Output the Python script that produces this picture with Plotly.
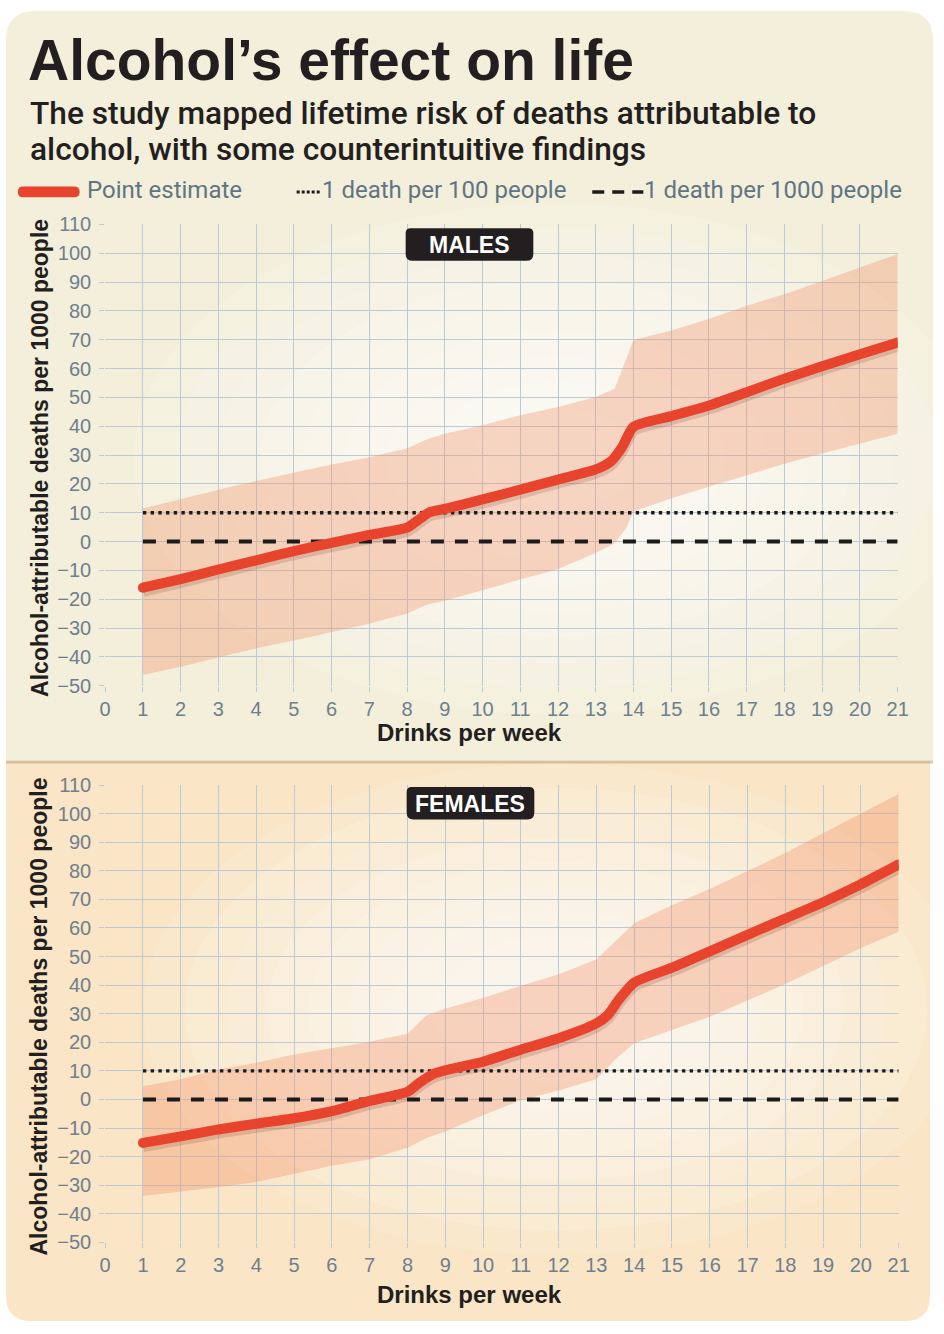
import plotly.graph_objects as go

# ---------------- data ----------------
x_ticks = list(range(0, 22))
y_ticks = list(range(-50, 111, 10))

male_x = [1, 2, 3, 4, 5, 6, 7, 8, 8.3, 8.6, 9, 10, 11, 12, 13, 13.4, 13.7, 14,
          15, 16, 17, 18, 19, 20, 21]
male_est = [-16, -13, -9.7, -6.5, -3.3, -0.5, 2.3, 4.8, 7.5, 10.2, 11.3, 14.6, 18,
            21.5, 25, 27.8, 32.8, 39.8, 43.5, 47.2, 51.8, 56.5, 60.8, 65, 69]
male_band_x = [1, 2, 3, 4, 5, 6, 7, 8, 8.5, 9, 10, 11, 12, 13, 13.5, 13.8, 14,
               15, 16, 17, 18, 19, 20, 21]
male_upper = [11.5, 14.8, 18, 21, 23.8, 26.7, 29.2, 32.4, 35.3, 37.4, 40.3, 43.8,
              46.7, 50.1, 53, 63, 69.9, 73.2, 77.2, 81.8, 85.8, 90.4, 95, 99.7]
male_lower = [-46.3, -43.4, -40.2, -37, -34.3, -31.4, -28.5, -25, -22, -20.5, -16.8,
              -13.2, -9.5, -4, -0.6, 4.5, 10.4, 15, 19, 23, 27, 30.5, 34, 37.4]

female_x = [1, 2, 3, 4, 5, 6, 7, 8, 8.3, 8.7, 9, 10, 11, 12, 13, 13.3, 13.6, 14,
            15, 16, 17, 18, 19, 20, 21]
female_est = [-15.2, -12.9, -10.5, -8.5, -6.6, -4.1, -0.5, 2.7, 5.7, 9, 10.2, 13.2,
              17.4, 21.4, 26.6, 29.5, 35, 40.9, 46.1, 51.8, 57.6, 63.3, 69, 75.3, 82.2]
female_band_x = [1, 2, 3, 4, 5, 6, 7, 8, 8.5, 9, 10, 11, 12, 13, 13.5, 14, 15, 16,
                 17, 18, 19, 20, 21]
female_upper = [4.6, 7.1, 10.5, 12.8, 15.7, 18, 20.2, 23, 29.4, 31.7, 35.5, 39.8,
                43.8, 49, 55.3, 61.6, 67.9, 73.6, 79.9, 86.2, 93.1, 100, 106.9]
female_lower = [-33.8, -32.3, -30.6, -28.9, -26, -23.2, -20.9, -16.9, -13.5, -11.2,
                -5.5, -0.3, 3.1, 7.1, 14, 19.7, 24.3, 28.9, 34.6, 40.4, 46.7, 53, 58.7]

threshold_x = [1, 21]
per_100_level = 10     # 1 death per 100 people
per_1000_level = 0     # drawn on the zero line in the reference

title_text = "Alcohol’s effect on life"
subtitle_lines = ["The study mapped lifetime risk of deaths attributable to",
                  "alcohol, with some counterintuitive findings"]
legend_labels = ["Point estimate", "1 death per 100 people", "1 death per 1000 people"]
panel_labels = ["MALES", "FEMALES"]
y_title = "Alcohol-attributable deaths per 1000 people"
x_title = "Drinks per week"

# ---------------- styling / layout helpers ----------------
W, H = 944, 1334
RED = "#e8432d"
BAND = "rgba(240,140,100,0.34)"
GRID = "#bccad5"
TICK = "#6d808e"
DARK = "#231f20"
LEG = "#5f7583"
SANS = "Liberation Sans, Arial, sans-serif"
ROBOTO = "Roboto, Open Sans, sans-serif"


def px(x):
    return x / W


def py(y):
    return 1 - y / H


def rounded_path(x0, y0, x1, y1, r_tl, r_tr, r_br, r_bl):
    def P(x, y):
        return f"{px(x):.5f},{py(y):.5f}"
    d = f"M{P(x0 + r_tl, y0)} L{P(x1 - r_tr, y0)} "
    d += f"Q{P(x1, y0)} {P(x1, y0 + r_tr)} " if r_tr else ""
    d += f"L{P(x1, y1 - r_br)} "
    d += f"Q{P(x1, y1)} {P(x1 - r_br, y1)} " if r_br else ""
    d += f"L{P(x0 + r_bl, y1)} "
    d += f"Q{P(x0, y1)} {P(x0, y1 - r_bl)} " if r_bl else ""
    d += f"L{P(x0, y0 + r_tl)} "
    d += f"Q{P(x0, y0)} {P(x0 + r_tl, y0)} " if r_tl else ""
    return d + "Z"


fig = go.Figure()


def add_panel(xs, est, bx, up, lo, xa, ya):
    fig.add_trace(go.Scatter(x=bx, y=lo, mode="lines", line=dict(width=0),
                             hoverinfo="skip", xaxis=xa, yaxis=ya))
    fig.add_trace(go.Scatter(x=bx, y=up, mode="lines", line=dict(width=0),
                             fill="tonexty", fillcolor=BAND, hoverinfo="skip",
                             xaxis=xa, yaxis=ya))
    fig.add_trace(go.Scatter(x=threshold_x, y=[per_100_level] * 2, mode="lines",
                             line=dict(color="#1b1b1b", width=3.4, dash="3.4px,4.3px"),
                             xaxis=xa, yaxis=ya))
    fig.add_trace(go.Scatter(x=threshold_x, y=[per_1000_level] * 2, mode="lines",
                             line=dict(color="#1b1b1b", width=4, dash="13px,11px"),
                             xaxis=xa, yaxis=ya))
    shadow = [v - 1.1 for v in est]
    fig.add_trace(go.Scatter(x=xs, y=shadow, mode="lines",
                             line=dict(color="rgba(90,40,20,0.16)", width=12,
                                       shape="spline", smoothing=0.6),
                             xaxis=xa, yaxis=ya))
    fig.add_trace(go.Scatter(x=xs, y=est, mode="lines",
                             line=dict(color=RED, width=10, shape="spline", smoothing=0.6),
                             xaxis=xa, yaxis=ya))
    fig.add_trace(go.Scatter(x=[xs[0], xs[-1]], y=[est[0], est[-1]], mode="markers",
                             marker=dict(color=RED, size=10, line=dict(width=0)),
                             xaxis=xa, yaxis=ya))


add_panel(male_x, male_est, male_band_x, male_upper, male_lower, "x", "y")
add_panel(female_x, female_est, female_band_x, female_upper, female_lower, "x2", "y2")

axis_common_x = dict(range=[0, 21], tickvals=x_ticks, showgrid=True, gridcolor=GRID,
                     gridwidth=1.2, zeroline=False, showline=False, ticks="outside",
                     ticklen=5, tickcolor=GRID, tickwidth=1.2,
                     tickfont=dict(family=SANS, size=20, color=TICK),
                     fixedrange=True)
axis_common_y = dict(range=[-50, 110], tickvals=y_ticks, showgrid=True, gridcolor=GRID,
                     gridwidth=1.2, zeroline=False, showline=False, ticks="outside",
                     ticklen=5, tickcolor=GRID, tickwidth=1.2,
                     ticklabelstandoff=4,
                     tickfont=dict(family=SANS, size=20, color=TICK),
                     fixedrange=True)

shapes = []
# panel backgrounds
shapes.append(dict(type="path", xref="paper", yref="paper", layer="below",
                   path=rounded_path(0, 0, 944, 762, 30, 30, 0, 0),
                   fillcolor="#f3efdb", line=dict(width=0)))
shapes.append(dict(type="path", xref="paper", yref="paper", layer="below",
                   path=rounded_path(0, 763, 941, 1332, 0, 0, 26, 26),
                   fillcolor="#fae5c6", line=dict(width=0)))
shapes.append(dict(type="line", xref="paper", yref="paper", layer="below",
                   x0=0, x1=px(944), y0=py(763.5), y1=py(763.5),
                   line=dict(color="rgba(170,140,95,0.45)", width=3)))


def glow(cx, cy, rx, ry, n=10, op=0.13):
    for i in range(n):
        k = 1 - i / n
        shapes.append(dict(type="circle", xref="paper", yref="paper", layer="below",
                           x0=px(cx - rx * k), x1=px(cx + rx * k),
                           y0=py(cy + ry * k), y1=py(cy - ry * k),
                           fillcolor=f"rgba(255,255,255,{op})", line=dict(width=0)))


glow(560, 455, 430, 260)
glow(560, 1015, 420, 250)

# panel label boxes
shapes.append(dict(type="path", xref="paper", yref="paper", layer="above",
                   path=rounded_path(407, 221, 537, 254, 5, 5, 7, 7),
                   fillcolor="#231f20", line=dict(width=0)))
shapes.append(dict(type="path", xref="paper", yref="paper", layer="above",
                   path=rounded_path(408, 789, 538, 822, 5, 5, 7, 7),
                   fillcolor="#231f20", line=dict(width=0)))

# legend samples
shapes.append(dict(type="path", xref="paper", yref="paper", layer="above",
                   path=rounded_path(12, 178.5, 75, 189.5, 5.5, 5.5, 5.5, 5.5),
                   fillcolor=RED, line=dict(width=0)))
shapes.append(dict(type="line", xref="paper", yref="paper", x0=px(296), x1=px(321),
                   y0=py(184), y1=py(184),
                   line=dict(color="#1b1b1b", width=3, dash="3px,2px")))
shapes.append(dict(type="line", xref="paper", yref="paper", x0=px(597), x1=px(649),
                   y0=py(184), y1=py(184),
                   line=dict(color="#1b1b1b", width=3.6, dash="12px,8px")))

annotations = []


def ann(text, x, y, size, color, family, weight="normal", xanchor="left",
        yanchor="middle", angle=0):
    annotations.append(dict(text=text, x=px(x), y=py(y), xref="paper", yref="paper",
                            xanchor=xanchor, yanchor=yanchor, showarrow=False,
                            textangle=angle,
                            font=dict(size=size, color=color, family=family,
                                      weight=weight)))


ann(title_text, 20, 50, 57, DARK, SANS, "bold")
ann(subtitle_lines[0], 22, 104, 31.7, DARK, ROBOTO, 500)
ann(subtitle_lines[1], 22, 141, 31.7, DARK, ROBOTO, 500)
ann(legend_labels[0], 80, 182, 24, LEG, ROBOTO)
ann(legend_labels[1], 320, 182, 24, LEG, ROBOTO)
ann(legend_labels[2], 648, 182, 24, LEG, ROBOTO)
ann(panel_labels[0], 472, 238, 23, "white", SANS, "bold", xanchor="center")
ann(panel_labels[1], 473, 806, 23, "white", SANS, "bold", xanchor="center")
for cy in (454, 1022):
    ann(y_title, 34, cy, 23, DARK, SANS, "bold", xanchor="center", angle=-90)
ann(x_title, 472, 734, 24, DARK, SANS, "bold", xanchor="center")
ann(x_title, 472, 1305, 24, DARK, SANS, "bold", xanchor="center")

fig.update_layout(
    width=W, height=H,
    margin=dict(l=0, r=0, t=0, b=0),
    paper_bgcolor="white",
    plot_bgcolor="rgba(0,0,0,0)",
    showlegend=False,
    hovermode=False,
    xaxis=dict(domain=[px(101), px(908)], anchor="y", **axis_common_x),
    yaxis=dict(domain=[py(686), py(217)], anchor="x", **axis_common_y),
    xaxis2=dict(domain=[px(101), px(909)], anchor="y2", **axis_common_x),
    yaxis2=dict(domain=[py(1252), py(787)], anchor="x2", **axis_common_y),
    shapes=shapes,
    annotations=annotations,
)

fig.write_html("out.html", config={"displayModeBar": False})
